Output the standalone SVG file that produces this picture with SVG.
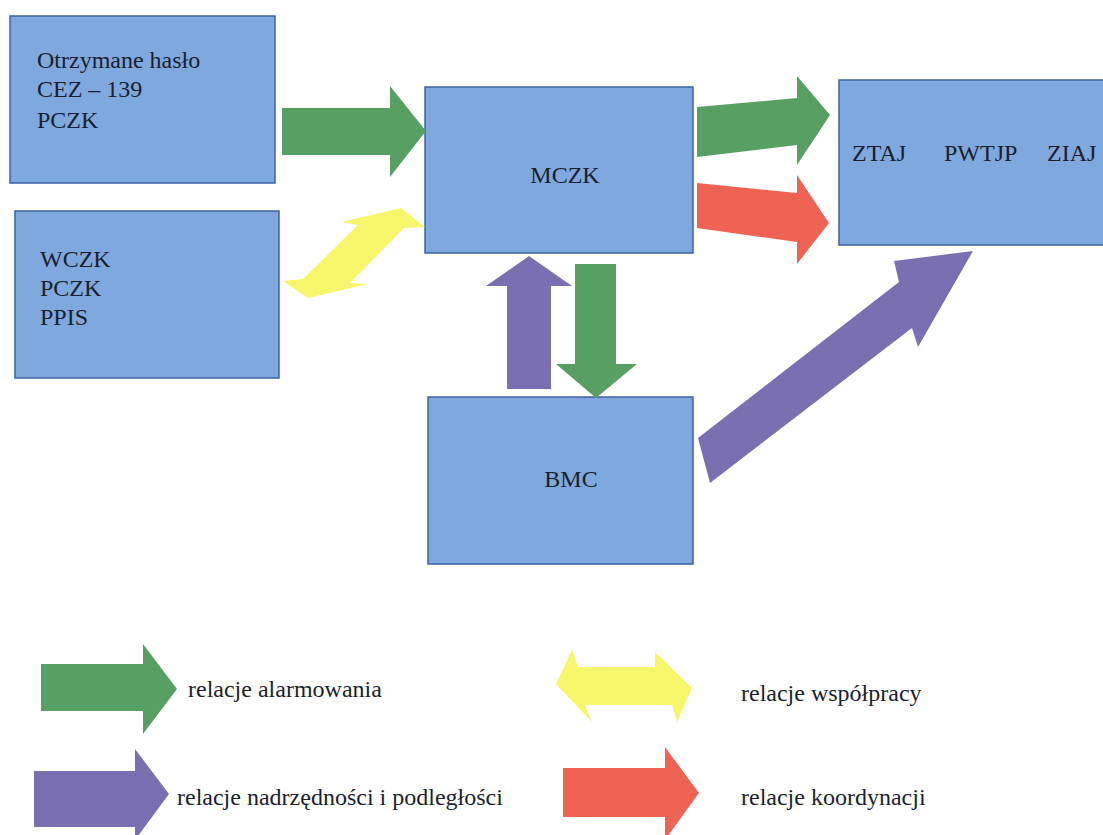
<svg xmlns="http://www.w3.org/2000/svg" width="1103" height="835" viewBox="0 0 1103 835">
<style>
.box{fill:#7fa8de;stroke:#3d63a3;stroke-width:1.5}
.t{font-family:"Liberation Serif","Times New Roman",serif;font-size:24px;fill:#1a1f2e}
.g{fill:#579f62}
.r{fill:#ee6354}
.p{fill:#7a6fb0}
.y{fill:#f7f56a}
</style>
<rect width="1103" height="835" fill="#ffffff"/>
<g id="box-haslo">
<rect class="box" x="10" y="16" width="265" height="167"/>
<text class="t" x="37" y="68">Otrzymane hasło</text>
<text class="t" x="37" y="97">CEZ – 139</text>
<text class="t" x="37" y="128">PCZK</text>
</g>
<g id="box-wczk">
<rect class="box" x="15" y="211" width="264" height="167"/>
<text class="t" x="40" y="267">WCZK</text>
<text class="t" x="40" y="296">PCZK</text>
<text class="t" x="40" y="325">PPIS</text>
</g>
<g id="box-mczk">
<rect class="box" x="425" y="87" width="268" height="166"/>
<text class="t" x="565" y="183" text-anchor="middle">MCZK</text>
</g>
<g id="box-ztaj">
<rect class="box" x="839" y="80" width="270" height="165"/>
<text class="t" x="852" y="161">ZTAJ</text>
<text class="t" x="944" y="161">PWTJP</text>
<text class="t" x="1047" y="161">ZIAJ</text>
</g>
<g id="box-bmc">
<rect class="box" x="428" y="397" width="265" height="167"/>
<text class="t" x="571" y="487" text-anchor="middle">BMC</text>
</g>
<g id="connectors">
<polygon class="g" points="282,108 390,108 390,86 426,131 390,177 390,155 282,155"/>
<polygon class="y" points="283,281 303,279 358,225 342,222 401,208 425,227 404,228 350,283 368,284 308,298"/>
<polygon class="g" points="697,107 797,98 797,76 830,115 797,165 797,145 697,157"/>
<polygon class="r" points="697,183 797,193 797,175 829,223 797,264 797,242 697,228"/>
<polygon class="p" points="507,389 507,286 486,286 529,256 572,286 551,286 551,389"/>
<polygon class="g" points="575,264 616,264 616,364 637,364 596,398 556,364 575,364"/>
<polygon class="p" points="698,438 899,282 894,261 973,251 918,347 912,328 710,483"/>
</g>
<g id="legend">
<polygon class="g" points="41,664 143,664 143,644 177,689 143,734 143,711 41,711"/>
<text class="t" x="188" y="697">relacje alarmowania</text>
<polygon class="p" points="34,771 135,771 135,749 169,794 135,840 135,827 34,827"/>
<text class="t" x="177" y="805">relacje nadrzędności i podległości</text>
<polygon class="y" points="556,684 572,650 578,667 655,667 655,652 692,688 677,722 672,705 585,705 592,722"/>
<text class="t" x="741" y="701">relacje współpracy</text>
<polygon class="r" points="563,768 665,768 665,747 699,793 665,840 665,817 563,817"/>
<text class="t" x="741" y="805">relacje koordynacji</text>
</g>
</svg>
